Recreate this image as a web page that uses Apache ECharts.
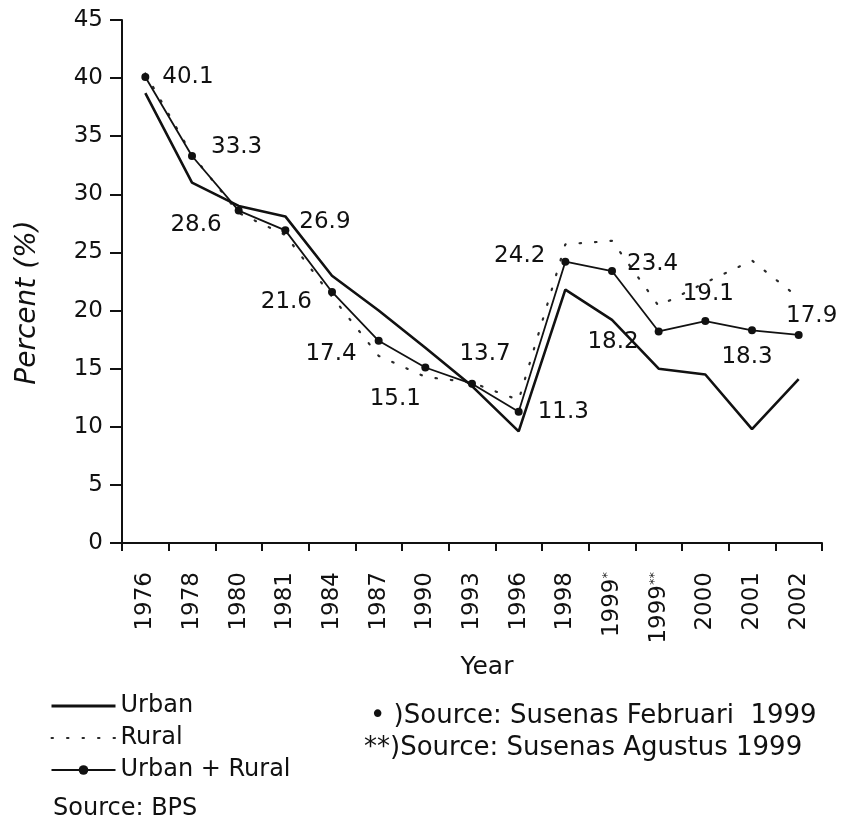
<!DOCTYPE html>
<html>
<head>
<meta charset="utf-8">
<script src="https://cdn.jsdelivr.net/npm/echarts@6/dist/echarts.min.js"></script>
<style>
html,body{margin:0;padding:0;background:#fff;}
#chart{width:843px;height:827px;}
</style>
</head>
<body>
<div id="chart"></div>
<script>
var years = ['1976','1978','1980','1981','1984','1987','1990','1993','1996','1998','1999*','1999**','2000','2001','2002'];
var urban = [38.7, 31.0, 29.0, 28.1, 23.0, 20.0, 16.8, 13.5, 9.6, 21.8, 19.2, 15.0, 14.5, 9.8, 14.1];
var rural = [40.4, 33.4, 28.4, 26.5, 21.2, 16.1, 14.3, 13.8, 12.3, 25.7, 26.0, 20.4, 22.4, 24.3, 21.1];
var total = [40.1, 33.3, 28.6, 26.9, 21.6, 17.4, 15.1, 13.7, 11.3, 24.2, 23.4, 18.2, 19.1, 18.3, 17.9];
var yTicks = [0, 5, 10, 15, 20, 25, 30, 35, 40, 45];

// label placement for each Urban + Rural point (style only)
var labelPlace = [
  {position:'right', distance:13, offset:[0,0]},
  {position:'right', distance:15, offset:[0,-9]},
  {position:'left', distance:13, offset:[0,14]},
  {position:'right', distance:10, offset:[0,-8]},
  {position:'left', distance:16, offset:[0,10]},
  {position:'left', distance:18, offset:[0,13]},
  {position:'bottom', distance:16, offset:[-30,0]},
  {position:'top', distance:14, offset:[13,0]},
  {position:'right', distance:15, offset:[0,0]},
  {position:'left', distance:16, offset:[0,-6]},
  {position:'right', distance:11, offset:[0,-7]},
  {position:'left', distance:16, offset:[0,11]},
  {position:'top', distance:11, offset:[3,0]},
  {position:'bottom', distance:11, offset:[-5,0]},
  {position:'top', distance:3, offset:[13,0]}
];

var FONT = "'DejaVu Sans', Verdana, sans-serif";
var INK = '#111';

var totalData = total.map(function(v, i){
  return {value: v, label: labelPlace[i]};
});

var chart = echarts.init(document.getElementById('chart'), null, {renderer:'canvas'});
chart.setOption({
  backgroundColor: '#fff',
  animation: false,
  textStyle: {fontFamily: FONT, color: INK},
  grid: {left: 122, right: 21, top: 20, bottom: 284, containLabel: false},
  xAxis: {
    type: 'category',
    data: years,
    boundaryGap: true,
    name: 'Year',
    nameLocation: 'middle',
    nameGap: 112,
    nameTextStyle: {fontSize: 25, color: INK, fontFamily: FONT, padding: [0,0,0,30]},
    axisLine: {show: true, lineStyle: {color: INK, width: 2}},
    axisTick: {show: true, length: 8, alignWithLabel: false, lineStyle: {color: INK, width: 2}},
    axisLabel: {rotate: 90, margin: 29, fontSize: 23, color: INK, fontFamily: FONT, interval: 0,
      formatter: function(v){
        var m = v.match(/^(\d+)(\**)$/);
        return m && m[2] ? '{d|' + m[1] + '}{s|' + m[2] + '}' : v;
      },
      rich: {
        d: {fontSize: 23, fontFamily: FONT, color: INK},
        s: {fontSize: 13, fontFamily: FONT, color: INK, padding: [0,0,8,0]}
      }
    },
    splitLine: {show: false}
  },
  yAxis: {
    type: 'value',
    min: 0, max: 45, interval: 5,
    name: 'Percent (%)',
    nameLocation: 'middle',
    nameGap: 80,
    nameTextStyle: {fontSize: 28, fontStyle: 'italic', color: INK, fontFamily: FONT, padding: [0,42,0,0]},
    axisLine: {show: true, lineStyle: {color: INK, width: 2}},
    axisTick: {show: true, length: 12, lineStyle: {color: INK, width: 2}},
    axisLabel: {margin: 19, fontSize: 23, color: INK, fontFamily: FONT,
      formatter: function(v){ return yTicks.indexOf(v) >= 0 ? String(v) : ''; }},
    splitLine: {show: false}
  },
  legend: {
    orient: 'vertical',
    left: 45,
    top: 689,
    itemWidth: 64,
    itemHeight: 12,
    itemGap: 8,
    textStyle: {fontSize: 24, color: INK, fontFamily: FONT, lineHeight: 24},
    data: [
      {name: 'Urban', itemStyle: {opacity: 0}, lineStyle: {width: 3}},
      {name: 'Rural', itemStyle: {opacity: 0}},
      {name: 'Urban + Rural'}
    ]
  },
  series: [
    {
      name: 'Urban', type: 'line', data: urban,
      symbol: 'none', smooth: false,
      lineStyle: {color: INK, width: 2.6},
      itemStyle: {color: INK},
      z: 3
    },
    {
      name: 'Rural', type: 'line', data: rural,
      symbol: 'none',
      lineStyle: {color: '#2a2a2a', width: 2.2, type: [1.5, 14], cap: 'round'},
      itemStyle: {color: '#2a2a2a'},
      z: 2
    },
    {
      name: 'Urban + Rural', type: 'line', data: totalData,
      symbol: 'circle', symbolSize: 8,
      lineStyle: {color: INK, width: 1.8},
      itemStyle: {color: INK},
      label: {show: true, fontSize: 23, color: INK, fontFamily: FONT,
        formatter: function(p){ return p.value.toFixed(1); }},
      z: 4
    }
  ],
  graphic: [
    {type:'text', left: 370, top: 703, style:{text:'• )Source: Susenas Februari  1999', font: '26px ' + FONT, fill: INK}},
    {type:'text', left: 364, top: 735, style:{text:'**)Source: Susenas Agustus 1999', font: '26px ' + FONT, fill: INK}},
    {type:'text', left: 53, top: 797, style:{text:'Source: BPS', font: '24px ' + FONT, fill: INK}}
  ]
});
</script>
</body>
</html>
